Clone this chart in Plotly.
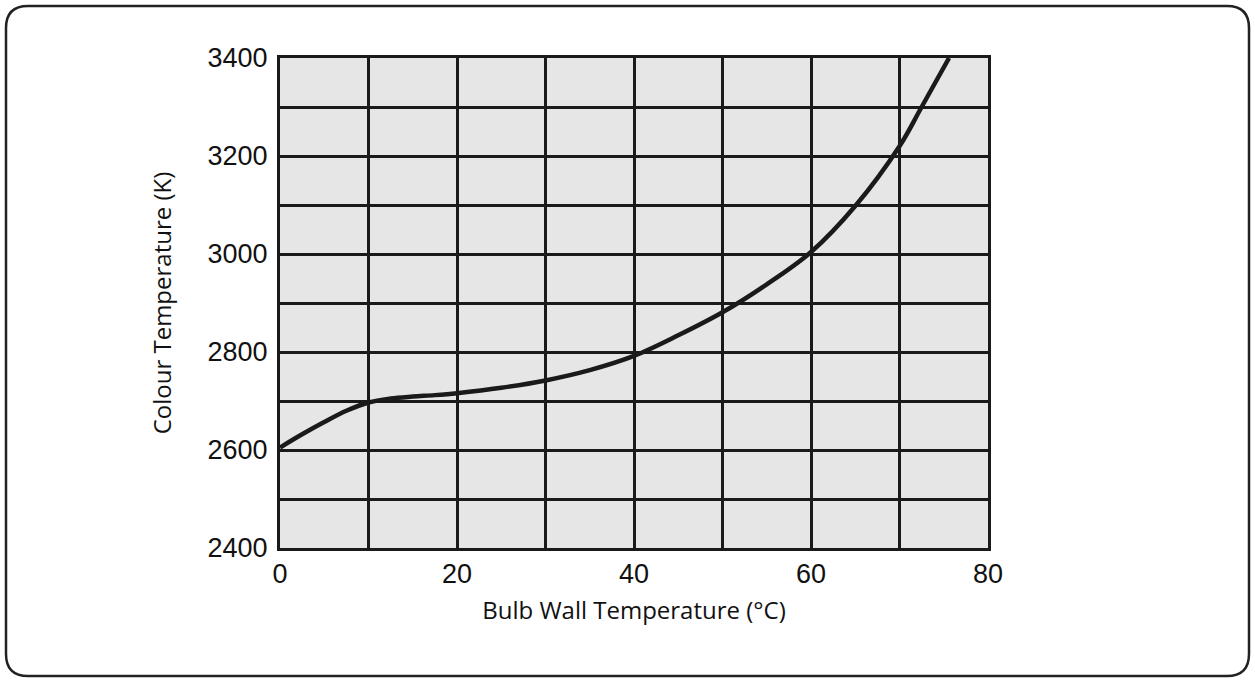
import plotly.graph_objects as go

bulb_wall_temp = [0, 2.5, 5, 7.5, 10, 12.5, 15, 17.5, 20, 25, 30, 35, 40, 45, 50, 55, 60, 65, 70, 72.5, 75.6]
colour_temp = [2605, 2632, 2657, 2680, 2697, 2705, 2709, 2712, 2716, 2727, 2742, 2763, 2792, 2834, 2881, 2938, 3004, 3098, 3220, 3300, 3400]

x_ticks = [0, 20, 40, 60, 80]
y_ticks = [2400, 2600, 2800, 3000, 3200, 3400]

W, H = 1255, 681
L, R, T, B = 280, 988, 58, 548

def px(x):
    return (x - L) / (R - L)

def py(y):
    return (B - y) / (B - T)

fig = go.Figure()
fig.add_trace(go.Scatter(x=bulb_wall_temp, y=colour_temp, mode="lines",
                         line=dict(color="#1a1a1a", width=4.5, shape="spline", smoothing=1.0),
                         showlegend=False, hoverinfo="skip"))

# rounded border box
x0, x1, y0, y1, r = 6, 1249, 6, 676, 22
path = (f"M {px(x0+r)},{py(y0)} L {px(x1-r)},{py(y0)} Q {px(x1)},{py(y0)} {px(x1)},{py(y0+r)} "
        f"L {px(x1)},{py(y1-r)} Q {px(x1)},{py(y1)} {px(x1-r)},{py(y1)} "
        f"L {px(x0+r)},{py(y1)} Q {px(x0)},{py(y1)} {px(x0)},{py(y1-r)} "
        f"L {px(x0)},{py(y0+r)} Q {px(x0)},{py(y0)} {px(x0+r)},{py(y0)} Z")
fig.add_shape(type="path", path=path, xref="paper", yref="paper",
              line=dict(color="#222222", width=2.5), layer="above")

tick_font = dict(family="Liberation Sans, Arial, sans-serif", size=27, color="#111111")
title_font = dict(family="Open Sans, sans-serif", size=24, color="#111111")

fig.update_layout(
    width=W, height=H,
    margin=dict(l=L, r=W - R, t=T, b=H - B),
    paper_bgcolor="white",
    plot_bgcolor="#e6e6e6",
    xaxis=dict(range=[0, 80], tickvals=x_ticks, ticktext=[str(v) for v in x_ticks],
               showgrid=True, gridcolor="#1a1a1a", gridwidth=3,
               minor=dict(dtick=10, showgrid=True, gridcolor="#1a1a1a", gridwidth=3),
               showline=True, linecolor="#1a1a1a", linewidth=3, mirror=True,
               zeroline=False, ticks="", tickfont=tick_font, ticklabelstandoff=0,
               title=dict(text="Bulb Wall Temperature (°C)", font=title_font, standoff=14)),
    yaxis=dict(range=[2400, 3400], tickvals=y_ticks, ticktext=[str(v) for v in y_ticks],
               showgrid=True, gridcolor="#1a1a1a", gridwidth=3,
               minor=dict(dtick=100, showgrid=True, gridcolor="#1a1a1a", gridwidth=3),
               showline=True, linecolor="#1a1a1a", linewidth=3, mirror=True,
               zeroline=False, ticks="", tickfont=tick_font, ticklabelstandoff=4,
               title=dict(text="Colour Temperature (K)", font=title_font, standoff=30)),
)

fig.write_html("out.html", config={"displayModeBar": False},
               post_script="document.body.style.margin='0';")
